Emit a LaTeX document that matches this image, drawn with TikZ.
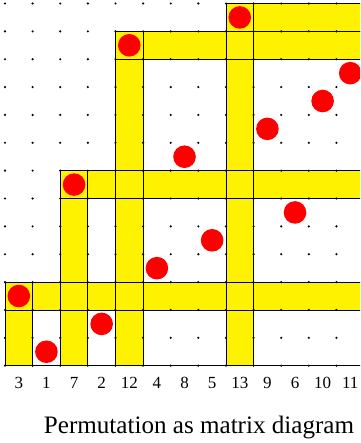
\documentclass[tikz,border=0pt]{standalone}
\usepackage{fontspec}
\setmainfont{Liberation Serif}
\begin{document}
\begin{tikzpicture}[x=1pt,y=-1pt,
  bandfill/.style={fill=yellow},
  edge/.style={draw=black, line width=0.9pt},
  griddot/.style={fill=black},
  reddot/.style={circle, fill=red, minimum size=22.6pt, inner sep=0pt},
  lab/.style={font=\fontsize{17}{17}\selectfont, anchor=base, inner sep=0pt},
  captionstyle/.style={font=\fontsize{25.1}{25.1}\selectfont, anchor=base, inner sep=0pt}]
\useasboundingbox (0,0) rectangle (360,443);
\begin{scope}
\clip (0,0) rectangle (360,443);
\def\sx{27.62}\def\sy{27.86}\def\xo{5}\def\yo{3.5}\def\ybot{365.7}
% yellow bands
\foreach \c/\v in {1/3,3/7,5/12,9/13}{
  \pgfmathsetmacro\xl{\xo+(\c-1)*\sx}
  \pgfmathsetmacro\xr{\xo+\c*\sx}
  \pgfmathsetmacro\yt{\yo+(13-\v)*\sy}
  \pgfmathsetmacro\yb{\yo+(14-\v)*\sy}
  \fill[bandfill] (\xl,\yt) rectangle (\xr,\ybot);
  \fill[bandfill] (\xl,\yt) rectangle (380,\yb);
}
% outlines
\foreach \c/\v in {1/3,3/7,5/12,9/13}{
  \pgfmathsetmacro\xl{\xo+(\c-1)*\sx}
  \pgfmathsetmacro\xr{\xo+\c*\sx}
  \pgfmathsetmacro\yt{\yo+(13-\v)*\sy}
  \pgfmathsetmacro\yb{\yo+(14-\v)*\sy}
  \draw[edge] (\xl,\yt) rectangle (\xr,\yb);
  \draw[edge] (\xl,\yb) rectangle (\xr,\ybot);
  \draw[edge] (\xr,\yt) rectangle (380,\yb);
}
\draw[edge] (\xo,\ybot) -- (380,\ybot);
% lattice dots
\foreach \i in {0,...,13}{
  \foreach \j in {0,...,13}{
    \fill[griddot] (\xo+\i*\sx, \yo+\j*\sy) circle (1.2);
  }
}
% permutation points and labels
\foreach \v [count=\c] in {3,1,7,2,12,4,8,5,13,9,6,10,11}{
  \node[reddot] (p\c) at (\xo+\c*\sx-0.5*\sx, \yo+13.5*\sy-\v*\sy) {};
  \node[lab] (l\c) at (\xo+\c*\sx-0.5*\sx, 388.3) {\v};
}
\node[captionstyle] (cap) at (199,433.3) {Permutation as matrix diagram};
\end{scope}
\end{tikzpicture}
\end{document}
